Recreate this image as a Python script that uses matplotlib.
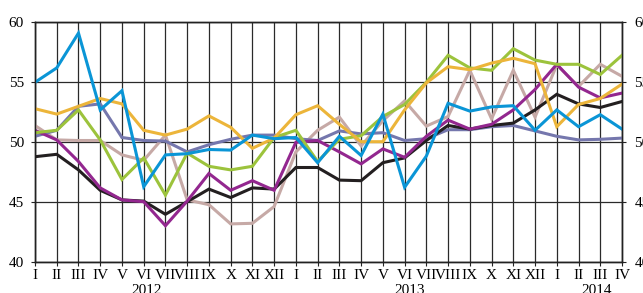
import matplotlib
matplotlib.use("Agg")
import matplotlib.pyplot as plt
import numpy as np

months = ["I", "II", "III", "IV", "V", "VI", "VII", "VIII", "IX", "X", "XI", "XII",
          "I", "II", "III", "IV", "V", "VI", "VII", "VIII", "IX", "X", "XI", "XII",
          "I", "II", "III", "IV"]
years = ["2012", "2013", "2014"]

black = [48.8, 49.0, 47.7, 46.0, 45.2, 45.1, 44.0, 45.05, 46.1, 45.4, 46.2, 46.1,
         47.9, 47.9, 46.85, 46.8, 48.3, 48.7, 50.15, 51.4, 51.1, 51.4, 51.6, 52.7,
         54.0, 53.2, 52.9, 53.4]
purple = [51.0, 50.2, 48.4, 46.2, 45.2, 45.05, 43.05, 45.1, 47.4, 46.0, 46.8, 46.0,
          50.0, 50.15, 49.2, 48.2, 49.45, 48.75, 50.5, 51.85, 51.1, 51.5, 52.7, 54.4,
          56.5, 54.6, 53.7, 54.1]
tan = [51.4, 50.2, 50.15, 50.15, 48.95, 48.5, 50.6, 45.2, 44.8, 43.2, 43.25, 44.65,
       49.2, 51.0, 52.1, 49.7, 51.8, 53.45, 51.35, 52.15, 56.0, 51.95, 56.0, 52.1,
       56.45, 54.65, 56.5, 55.5]
blue = [55.0, 56.2, 59.1, 52.7, 54.3, 46.3, 48.95, 49.05, 49.4, 49.35, 50.6, 50.3,
        50.4, 48.3, 50.5, 48.9, 52.35, 46.25, 48.85, 53.25, 52.6, 52.95, 53.05, 51.0,
        52.7, 51.3, 52.3, 51.1]
lavender = [50.5, 51.0, 53.0, 53.2, 50.4, 50.15, 50.1, 49.2, 49.8, 50.25, 50.6, 50.6,
            50.3, 50.15, 50.95, 50.7, 50.8, 50.15, 50.3, 51.05, 51.05, 51.3, 51.4, 50.95,
            50.5, 50.2, 50.25, 50.35]
yellow = [52.8, 52.35, 53.0, 53.65, 53.2, 51.0, 50.6, 51.1, 52.2, 51.25, 49.5, 50.35,
          52.3, 53.05, 51.5, 50.05, 50.05, 52.7, 54.95, 56.3, 56.05, 56.6, 57.0, 56.55,
          51.3, 53.15, 53.65, 54.85]
green = [50.8, 51.0, 52.7, 50.2, 46.9, 48.7, 45.6, 49.1, 48.0, 47.7, 48.0, 50.4,
         51.0, 48.4, 50.25, 50.55, 52.15, 53.15, 55.0, 57.25, 56.2, 56.0, 57.8, 56.85,
         56.5, 56.5, 55.65, 57.25]

series = [
    (tan, "#c6a9a6"),
    (lavender, "#7577ad"),
    (black, "#231f20"),
    (purple, "#93278f"),
    (green, "#9cc33c"),
    (yellow, "#ecb53a"),
    (blue, "#0a95d6"),
]

plt.rcParams['font.family'] = ['Liberation Serif', 'DejaVu Serif']

fig = plt.figure(figsize=(6.43, 2.93), dpi=100)
ax = fig.add_axes([35 / 643, (293 - 262.3) / 293, (622 - 35) / 643, (262.3 - 22.3) / 293])
x = np.arange(len(months))

for vals, col in series:
    ax.plot(x, vals, color=col, lw=2.2, solid_joinstyle='miter', zorder=3)

ax.set_xlim(0, len(months) - 1)
ax.set_ylim(40, 60)
ax.set_yticks([40, 45, 50, 55, 60])
ax.set_xticks(x)
ax.set_xticklabels(months, fontsize=11)
ax.tick_params(axis='both', length=3, width=0.8, color='#222222', labelsize=11, pad=2)
ax.tick_params(axis='y', pad=5)
ax.grid(True, axis='both', color='#2a2a2a', lw=0.9, zorder=1)
for s in ax.spines.values():
    s.set_color('#222222')
    s.set_linewidth(1.0)

ax2 = ax.twinx()
ax2.set_ylim(40, 60)
ax2.set_yticks([40, 45, 50, 55, 60])
ax2.tick_params(axis='y', length=3, width=0.8, color='#222222', labelsize=11, pad=6)
for s in ax2.spines.values():
    s.set_color('#222222')
    s.set_linewidth(1.0)

year_pos = [5.15, 17.25, 25.85]
for xp, yr in zip(year_pos, years):
    ax.text(xp, -0.09, yr, transform=ax.get_xaxis_transform(), ha='center', va='top',
            fontsize=11)

fig.savefig("out.png", dpi=100)
